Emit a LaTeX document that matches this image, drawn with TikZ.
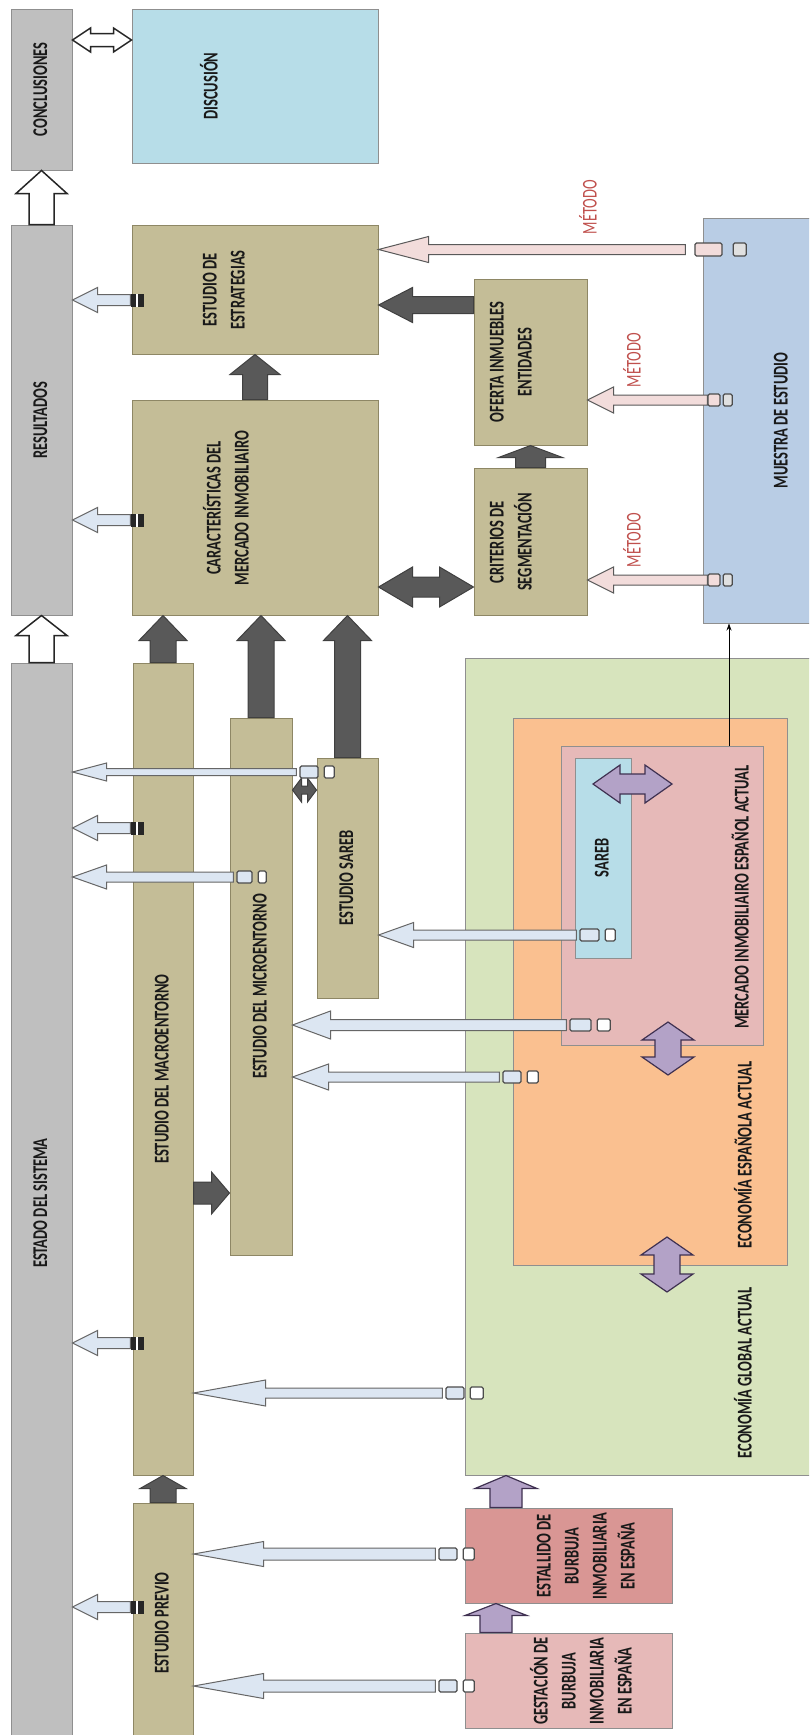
\documentclass[tikz,border=0pt]{standalone}
\usepackage{fontspec}
\setmainfont{Carlito}
\usepackage{graphicx}
\usetikzlibrary{calc, positioning, arrows.meta}

\definecolor{gris}{HTML}{BFBFBF}
\definecolor{grisB}{HTML}{8F8F8F}
\definecolor{celeste}{HTML}{B7DDE8}
\definecolor{caqui}{HTML}{C4BD97}
\definecolor{caquiB}{HTML}{8E8765}
\definecolor{acero}{HTML}{B9CDE5}
\definecolor{verde}{HTML}{D7E4BD}
\definecolor{naranja}{HTML}{FAC090}
\definecolor{rosado}{HTML}{E6B9B8}
\definecolor{rojizo}{HTML}{D99694}
\definecolor{oscuro}{HTML}{595959}
\definecolor{lilaF}{HTML}{B3A2C7}
\definecolor{lilaB}{HTML}{3F3151}
\definecolor{rosaF}{HTML}{F2DCDB}
\definecolor{azulF}{HTML}{DCE6F2}
\definecolor{rojoT}{HTML}{C0504D}

\tikzset{
  caja/.style = {draw=grisB, line width=1pt, inner sep=0pt,
    font=\fontsize{21}{28}\selectfont\bfseries, text=black!90},
  gcaja/.style = {caja, fill=gris},
  tcaja/.style = {caja, fill=caqui, draw=caquiB},
  rot/.style = {inner sep=0pt, font=\fontsize{21}{28}\selectfont\bfseries, text=black!90},
  metodo/.style = {inner sep=0pt, font=\fontsize{21}{25}\selectfont, text=rojoT},
  fosca/.style = {fill=oscuro, draw=black!75, line width=1pt},
  flila/.style = {fill=lilaF, draw=lilaB, line width=1.2pt},
  frosa/.style = {fill=rosaF, draw=black!65, line width=1pt},
  fazul/.style = {fill=azulF, draw=black!60, line width=1pt},
  fblanca/.style = {fill=white, draw=black!85, line width=1.5pt},
  tab/.style = {draw=black!70, line width=1.2pt, fill=#1, rounded corners=1.5pt,
    minimum height=12pt, inner sep=0pt},
  tab/.default = white,
  tope/.style = {fill=black!85, minimum width=13pt, minimum height=13pt, inner sep=0pt,
    path picture={\draw[white, line width=1.5pt] (path picture bounding box.north)
      -- (path picture bounding box.south);}}
}
% texto vertical y estrecho
\newcommand{\vtx}[1]{\rotatebox{90}{\scalebox{0.69}[1]{\begin{tabular}{@{}c@{}}#1\end{tabular}}}}
% block arrow: [style]{from}{to}{half shaft}{half head}{head length}
\newcommand{\flecha}[6][]{%
  \draw[#1] let \p1=#2, \p2=#3,
      \n1={atan2(\y2-\y1,\x2-\x1)}, \n2={veclen(\x2-\x1,\y2-\y1)} in
    [shift={(\p1)}, rotate=\n1]
    (0pt,-#4) -- ({\n2-#6},-#4) -- ({\n2-#6},-#5) -- (\n2,0pt)
    -- ({\n2-#6},#5) -- ({\n2-#6},#4) -- (0pt,#4) -- cycle;}
\newcommand{\dflecha}[6][]{%
  \draw[#1] let \p1=#2, \p2=#3,
      \n1={atan2(\y2-\y1,\x2-\x1)}, \n2={veclen(\x2-\x1,\y2-\y1)} in
    [shift={(\p1)}, rotate=\n1]
    (0pt,0pt) -- (#6,-#5) -- (#6,-#4) -- ({\n2-#6},-#4) -- ({\n2-#6},-#5)
    -- (\n2,0pt) -- ({\n2-#6},#5) -- ({\n2-#6},#4) -- (#6,#4)
    -- (#6,#5) -- cycle;}

\begin{document}
\begin{tikzpicture}[x=1pt, y=-1pt]
  \useasboundingbox (0,0) rectangle (809,1735);
  \clip (0,0) rectangle (809,1735);
  \fill[white] (0,0) rectangle (809,1735);

  % contexto economico
  \node[caja, fill=verde, minimum width=405pt, minimum height=817pt] (global) at (667.5,1066.5) {};
  \node[caja, fill=naranja, minimum width=274pt, minimum height=547pt] (espana) at (650,991.5) {};
  \node[caja, fill=rosado, minimum width=202pt, minimum height=299pt] (mercado) at (662,895.5) {};
  \node[caja, fill=celeste, minimum width=56pt, minimum height=200pt] (sareb) at (603,858) {\vtx{SAREB}};
  \node[rot] (globalT) at (746,1373) {\vtx{ECONOMÍA GLOBAL ACTUAL}};
  \node[rot] (espanaT) at (746,1155) {\vtx{ECONOMÍA ESPAÑOLA ACTUAL}};
  \node[rot] (mercadoT) at (743,897) {\vtx{MERCADO INMOBILIAIRO ESPAÑOL ACTUAL}};
  \node[caja, fill=rojizo, minimum width=207pt, minimum height=95pt] (estallido) at (568.5,1555.5) {};
  \node[rot] (estallidoT) at (587,1556) {\vtx{ESTALLIDO DE\\BURBUJA\\INMOBILIARIA\\EN ESPAÑA}};
  \node[caja, fill=rosado, minimum width=207pt, minimum height=95pt] (gestacion) at (568.5,1680.5) {};
  \node[rot] (gestacionT) at (584,1681) {\vtx{GESTACIÓN DE\\BURBUJA\\INMOBILIARIA\\EN ESPAÑA}};

  % columna gris
  \node[gcaja, minimum width=61pt, minimum height=161pt] (concl) at (41.5,89.5) {\vtx{CONCLUSIONES}};
  \node[gcaja, minimum width=61pt, minimum height=390pt] (res) at (41.5,420) {\vtx{RESULTADOS}};
  \node[gcaja, minimum width=61pt, minimum height=1080pt] (estado) at (41.5,1203) {\vtx{ESTADO DEL SISTEMA}};

  % estudios
  \node[caja, fill=celeste, minimum width=246pt, minimum height=154pt] (disc) at (255,86) {};
  \node[rot] (discT) at (212,86) {\vtx{DISCUSIÓN}};
  \node[tcaja, minimum width=246pt, minimum height=129pt] (estrat) at (255,289.5) {};
  \node[rot] (estratT) at (225,290) {\vtx{ESTUDIO DE\\ESTRATEGIAS}};
  \node[tcaja, minimum width=246pt, minimum height=215pt] (carac) at (255,507.5) {};
  \node[rot] (caracT) at (229,508) {\vtx{CARACTERÍSTICAS DEL\\MERCADO INMOBILIAIRO}};
  \node[tcaja, minimum width=113pt, minimum height=166pt] (oferta) at (530.5,362) {};
  \node[rot] (ofertaT) at (512,362) {\vtx{OFERTA INMUEBLES\\ENTIDADES}};
  \node[tcaja, minimum width=113pt, minimum height=147pt] (crit) at (530.5,541.5) {};
  \node[rot] (critT) at (512,542) {\vtx{CRITERIOS DE\\SEGMENTACIÓN}};
  \node[caja, fill=acero, minimum width=158pt, minimum height=405pt] (muestra) at (782,420.5)
    {\vtx{MUESTRA DE ESTUDIO}};
  \node[tcaja, minimum width=60pt, minimum height=812pt] (macro) at (163,1069) {\vtx{ESTUDIO DEL MACROENTORNO}};
  \node[tcaja, minimum width=62pt, minimum height=537pt] (micro) at (261,986.5) {\vtx{ESTUDIO DEL MICROENTORNO}};
  \node[tcaja, minimum width=61pt, minimum height=240pt] (sarebE) at (347.5,878) {\vtx{ESTUDIO SAREB}};
  \node[tcaja, minimum width=60pt, minimum height=240pt] (previo) at (163,1623) {\vtx{ESTUDIO PREVIO}};

  \foreach \xa/\ya [count=\i] in {588/207, 632/360, 632/540}
    \node[metodo] (met\i) at (\xa,\ya) {\rotatebox{90}{\scalebox{0.69}[1]{MÉTODO}}};

  % flechas oscuras
  \flecha[fosca]{(carac.north)}{(estrat.south)}{12.5pt}{25pt}{20pt}
  \foreach \b in {macro, micro, sarebE} {
    \flecha[fosca]{(\b.north)}{(carac.south -| \b.north)}{13pt}{24pt}{25pt}
  }
  \flecha[fosca]{(oferta.west |- 0,305)}{(estrat.east |- 0,305)}{8.5pt}{17.5pt}{34pt}
  \dflecha[fosca]{(crit.west |- 0,587)}{(carac.east |- 0,587)}{10pt}{20pt}{34pt}
  \flecha[fosca]{(crit.north)}{(oferta.south)}{15pt}{32pt}{12pt}
  \flecha[fosca]{(previo.north)}{(macro.south)}{13pt}{23pt}{13pt}
  \flecha[fosca]{(macro.east |- 0,1193)}{(micro.west |- 0,1193)}{11pt}{21pt}{18pt}
  \dflecha[fosca]{(micro.east |- 0,790)}{(sarebE.west |- 0,790)}{4pt}{12pt}{9pt}

  % flechas lila
  \flecha[flila]{(estallido.north -| 506,0)}{(global.south -| 506,0)}{16pt}{31pt}{13pt}
  \flecha[flila]{(gestacion.north -| 496,0)}{(estallido.south -| 496,0)}{16pt}{31pt}{12pt}
  \coordinate (la) at (593,784);
  \coordinate (lb) at (672,784);
  \dflecha[flila]{(la)}{(lb)}{10pt}{19pt}{27pt}
  \coordinate (lc) at (668,1022);
  \coordinate (ld) at (668,1075);
  \dflecha[flila]{(lc)}{(ld)}{13pt}{26pt}{18pt}
  \coordinate (le) at (667,1237);
  \coordinate (lf) at (667,1292);
  \dflecha[flila]{(le)}{(lf)}{13pt}{26pt}{18pt}

  % flechas blancas
  \dflecha[fblanca]{(concl.east |- 0,40)}{(disc.west |- 0,40)}{6.5pt}{12pt}{18pt}
  \flecha[fblanca]{(res.north)}{(concl.south)}{12.5pt}{25.5pt}{23pt}
  \flecha[fblanca]{(estado.north)}{(res.south)}{12.5pt}{25.5pt}{20pt}
  \draw[-{Stealth[length=7pt,width=5pt]}, line width=0.8pt] (mercado.north -| 729,0) -- (muestra.south -| 729,0);

  % flechas de metodo
  \node[tab=rosaF, minimum width=27pt, minimum height=13pt] (pa1) at (708.5,249.5) {};
  \node[tab=black!12, minimum width=13pt, minimum height=13pt, right=10pt of pa1] (pb1) {};
  \flecha[frosa]{([xshift=-9pt]pa1.west)}{(estrat.east |- pa1.west)}{5pt}{13pt}{50pt}
  \foreach \ya/\tg [count=\i from 2] in {400/oferta, 580/crit} {
    \node[tab=rosaF, minimum width=12pt] (pa\i) at (714,\ya) {};
    \node[tab=black!12, minimum width=9pt, right=2pt of pa\i] (pb\i) {};
    \flecha[frosa]{(pa\i.west)}{(\tg.east |- pa\i.west)}{5pt}{13pt}{26pt}
  }

  % flechas de datos
  \foreach \ya/\xa/\wa/\wb/\tg/\hl/\hh/\sw [count=\i] in
      {772/309/18/10/estado/34/9/3.5, 877/244.5/15/8/estado/34/12/5,
       935/589.5/19/10/sarebE/35/12.5/5, 1025/580.5/21/13/micro/38/14/5.5,
       1077/512/18/11/micro/36/13/5, 1393/455/18/13/macro/72/13/5,
       1554/448/18/11/previo/70/12.5/6, 1686/448/18/11/previo/70/12.5/6} {
    \node[tab=azulF, minimum width=\wa pt] (ba\i) at (\xa,\ya) {};
    \node[tab, minimum width=\wb pt, right=5pt of ba\i] (bb\i) {};
    \flecha[fazul]{([xshift=-3pt]ba\i.west)}{(\tg.east |- ba\i.west)}{\sw pt}{\hh pt}{\hl pt}
  }
  \foreach \ya [count=\i] in {300,520,828,1343,1607} {
    \node[tope] (tp\i) at (137,\ya) {};
    \flecha[fazul]{(tp\i.west)}{(res.east |- tp\i.west)}{5.5pt}{12.5pt}{25pt}
  }
\end{tikzpicture}
\end{document}
